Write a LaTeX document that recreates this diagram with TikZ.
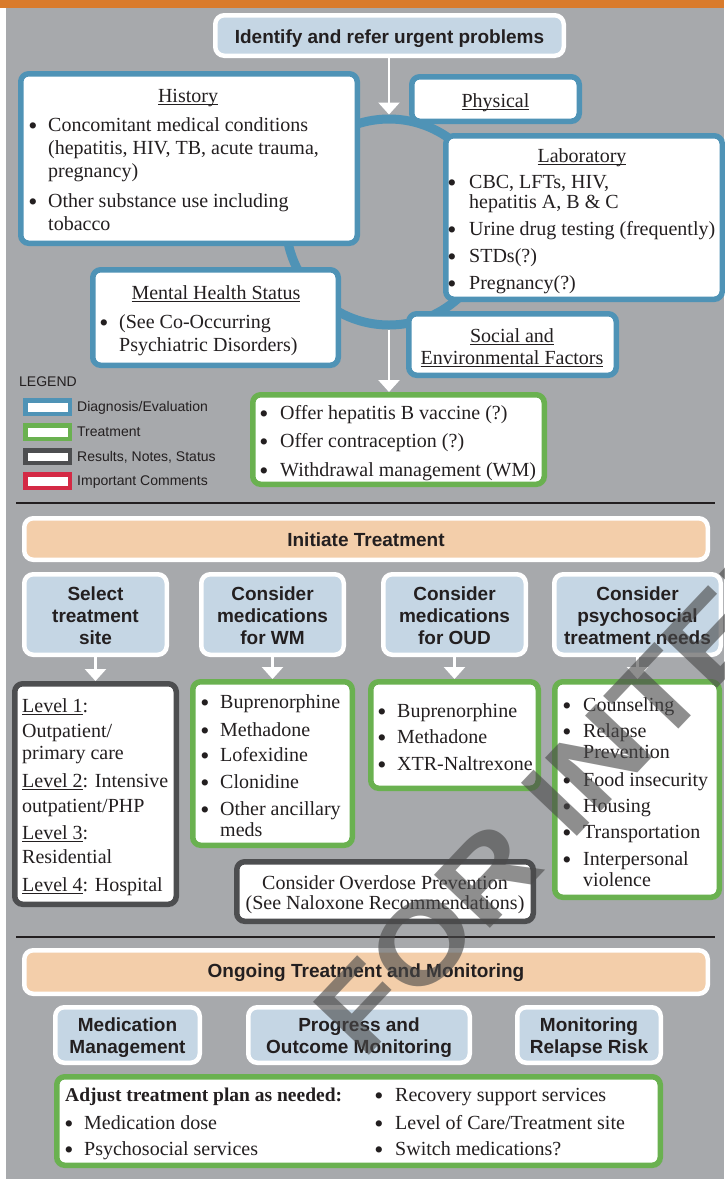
\documentclass[tikz,border=0pt]{standalone}
\usepackage{fontspec}
\setmainfont{Liberation Serif}
\newfontfamily\hsans{Liberation Sans}
\newfontfamily\wmfont[FakeStretch=1.13]{Liberation Sans}
\usetikzlibrary{arrows.meta}
\definecolor{cgray}{HTML}{A7A9AC}
\definecolor{corange}{HTML}{D97B2C}
\definecolor{cblue}{HTML}{4F93B6}
\definecolor{cgreen}{HTML}{6AB150}
\definecolor{cdark}{HTML}{4D4E50}
\definecolor{cred}{HTML}{D42A45}
\definecolor{clight}{HTML}{C5D6E4}
\definecolor{cpeach}{HTML}{F3CEAA}
\definecolor{ctext}{HTML}{231F20}
\definecolor{cwm}{HTML}{4A4A4A}
\newsavebox\ulbox
\newcommand{\myul}[1]{\sbox\ulbox{#1}\rlap{\rule[-3pt]{\wd\ulbox}{0.9pt}}\usebox\ulbox}
\newcommand{\mybox}[7]{\node[#1,minimum width={#5-#3-#7},minimum height={#6-#4-#7}] (#2) at ({(#3+#5)/2},{(#4+#6)/2}) {};}
\tikzset{
 frame/.style={rectangle, fill=white, line width=5.5pt, rounded corners=8pt, inner sep=0pt},
 dxbox/.style={frame, draw=cblue},
 txbox/.style={frame, draw=cgreen},
 rnbox/.style={frame, draw=cdark},
 headbox/.style={rectangle, draw=white, fill=clight, line width=4.5pt, rounded corners=9pt, inner sep=0pt},
 barbox/.style={headbox, fill=cpeach},
 swatch/.style={rectangle, fill=white, line width=4.5pt, inner sep=0pt},
 ser/.style={font=\fontsize{20}{23}\selectfont, text=ctext, inner sep=0pt, anchor=base west},
 sert/.style={font=\fontsize{20}{23}\selectfont, text=ctext, inner sep=0pt, anchor=base},
 serb/.style={font=\bfseries\fontsize{19.5}{23}\selectfont, text=ctext, inner sep=0pt, anchor=base west},
 hd/.style={font=\hsans\bfseries\fontsize{19}{22}\selectfont, text=ctext, inner sep=0pt, anchor=base},
 bul/.style={font=\fontsize{26}{26}\selectfont, text=ctext, inner sep=0pt, anchor=base, yshift=-3pt},
 leg/.style={font=\hsans\fontsize{14}{16}\selectfont, text=ctext, inner sep=0pt, anchor=base west},
 warrow/.style={draw=white, line width=2.5pt, -{Triangle[width=21pt,length=12pt]}},
 sepline/.style={line width=2.5pt, draw=ctext},
}
\begin{document}
\begin{tikzpicture}[x=1pt,y=-1pt]
\useasboundingbox (0,0) rectangle (724,1179);
\fill[cgray] (6,8) rectangle (724,1179);
\fill[corange] (0,0) rectangle (724,8);

% ---------- top section ----------
\node[circle, draw=cblue, line width=9pt, minimum size=206pt, inner sep=0pt] (ring) at (389,222) {};
\mybox{headbox}{ident}{213}{13}{566}{58}{4.5}
\node[hd] (identT) at (389.5,43) {Identify and refer urgent problems};

\mybox{dxbox}{hist}{18}{71}{360}{246}{5.5}
\mybox{dxbox}{phys}{409}{74}{582}{124}{5.5}
\mybox{dxbox}{lab}{443}{133}{725}{302}{5.5}
\mybox{dxbox}{mhs}{90}{267}{341}{368}{5.5}
\mybox{dxbox}{soc}{406}{311}{619}{378}{5.5}
\mybox{txbox}{offer}{250}{392}{547}{487}{5.5}

\draw[warrow] (ring.north |- ident.south) -- (ring.north);
\draw[warrow] (ring.south) -- (ring.south |- offer.north);

% History
\node[sert] (histT) at (188,102) {\myul{History}};
\node[bul] (hb1) at (33,131) {•};
\node[ser] (h1a) at (48,131) {Concomitant medical conditions};
\node[ser] (h1b) at (48,154) {(hepatitis, HIV, TB, acute trauma,};
\node[ser] (h1c) at (48,177) {pregnancy)};
\node[bul] (hb2) at (33,207) {•};
\node[ser] (h2a) at (48,207) {Other substance use including};
\node[ser] (h2b) at (48,230) {tobacco};

% Physical
\node[sert] (physT) at (495.5,107) {\myul{Physical}};

% Laboratory
\node[sert] (labT) at (582,162) {\myul{Laboratory}};
\node[bul] (lb1) at (452,188) {•};
\node[ser] (l1a) at (469,188) {CBC, LFTs, HIV,};
\node[ser] (l1b) at (469,208) {hepatitis A, B \& C};
\node[bul] (lb2) at (452,235) {•};
\node[ser] (l2) at (469,235) {Urine drug testing (frequently)};
\node[bul] (lb3) at (452,262) {•};
\node[ser] (l3) at (469,262) {STDs(?)};
\node[bul] (lb4) at (452,289) {•};
\node[ser] (l4) at (469,289) {Pregnancy(?)};

% Mental health
\node[sert] (mhsT) at (216,299) {\myul{Mental Health Status}};
\node[bul] (mb1) at (104,328) {•};
\node[ser] (m1a) at (119,328) {(See Co-Occurring};
\node[ser] (m1b) at (119,351) {Psychiatric Disorders)};

% Social
\node[sert] (socT1) at (512,342) {\myul{Social and}};
\node[sert] (socT2) at (512,364) {\myul{Environmental Factors}};

% Offer
\node[bul] (ob1) at (264,419) {•};
\node[ser] (o1) at (280,419) {Offer hepatitis B vaccine (?)};
\node[bul] (ob2) at (264,447) {•};
\node[ser] (o2) at (280,447) {Offer contraception (?)};
\node[bul] (ob3) at (264,476) {•};
\node[ser] (o3) at (280,476) {Withdrawal management (WM)};

% Legend
\node[leg] (legT) at (19,386) {LEGEND};
\mybox{swatch, draw=cblue}{sw1}{23}{398}{72}{416}{4.5}
\mybox{swatch, draw=cgreen}{sw2}{23}{423}{72}{441}{4.5}
\mybox{swatch, draw=cdark}{sw3}{23}{448}{72}{465}{4.5}
\mybox{swatch, draw=cred}{sw4}{23}{472}{72}{490}{4.5}
\node[leg] (lg1) at (77,411) {Diagnosis/Evaluation};
\node[leg] (lg2) at (77,436) {Treatment};
\node[leg] (lg3) at (77,461) {Results, Notes, Status};
\node[leg] (lg4) at (77,485) {Important Comments};

% ---------- middle section ----------
\draw[sepline] (16,503) -- (715,503);
\mybox{barbox}{init}{22}{516}{710}{562}{4.5}
\node[hd] (initT) at (366,546) {Initiate Treatment};

\mybox{headbox}{hA}{22}{572}{169}{657}{4.5}
\mybox{headbox}{hB}{199}{572}{346}{657}{4.5}
\mybox{headbox}{hC}{381}{572}{528}{657}{4.5}
\mybox{headbox}{hD}{552}{572}{723}{657}{4.5}
\node[hd] (hA1) at (95.5,600) {Select};
\node[hd] (hA2) at (95.5,622) {treatment};
\node[hd] (hA3) at (95.5,644) {site};
\node[hd] (hB1) at (272.5,600) {Consider};
\node[hd] (hB2) at (272.5,622) {medications};
\node[hd] (hB3) at (272.5,644) {for WM};
\node[hd] (hC1) at (454.5,600) {Consider};
\node[hd] (hC2) at (454.5,622) {medications};
\node[hd] (hC3) at (454.5,644) {for OUD};
\node[hd] (hD1) at (637.5,600) {Consider};
\node[hd] (hD2) at (637.5,622) {psychosocial};
\node[hd] (hD3) at (637.5,644) {treatment needs};

\mybox{rnbox}{lvl}{12}{681}{179}{907}{5.5}
\mybox{txbox}{wmbox}{190}{679}{355}{848}{5.5}
\mybox{txbox}{oud}{368}{679}{541}{791}{5.5}
\mybox{txbox}{psy}{552}{679}{722}{900}{5.5}
\mybox{rnbox}{od}{234}{859}{536}{924}{5.5}

\draw[warrow] (hA.south) -- (hA.south |- lvl.north);
\draw[warrow] (hB.south) -- (hB.south |- wmbox.north);
\draw[warrow] (hC.south) -- (hC.south |- oud.north);
\draw[warrow] (hD.south) -- (hD.south |- psy.north);

% Levels
\node[ser] (v1) at (22,712) {\myul{Level 1}:};
\node[ser] (v2) at (22,737) {Outpatient/};
\node[ser] (v3) at (22,759) {primary care};
\node[ser] (v4) at (22,787) {\myul{Level 2}: Intensive};
\node[ser] (v5) at (22,812) {outpatient/PHP};
\node[ser] (v6) at (22,839) {\myul{Level 3}:};
\node[ser] (v7) at (22,863) {Residential};
\node[ser] (v8) at (22,891) {\myul{Level 4}: Hospital};

% WM meds
\node[bul] (wb1) at (205,708) {•};
\node[ser] (w1) at (220,708) {Buprenorphine};
\node[bul] (wb2) at (205,736) {•};
\node[ser] (w2) at (220,736) {Methadone};
\node[bul] (wb3) at (205,761) {•};
\node[ser] (w3) at (220,761) {Lofexidine};
\node[bul] (wb4) at (205,788) {•};
\node[ser] (w4) at (220,788) {Clonidine};
\node[bul] (wb5) at (205,815) {•};
\node[ser] (w5a) at (220,815) {Other ancillary};
\node[ser] (w5b) at (220,836) {meds};

% OUD meds
\node[bul] (ub1) at (382,717) {•};
\node[ser] (u1) at (397,717) {Buprenorphine};
\node[bul] (ub2) at (382,743) {•};
\node[ser] (u2) at (397,743) {Methadone};
\node[bul] (ub3) at (382,770) {•};
\node[ser] (u3) at (397,770) {XTR-Naltrexone};

% Psychosocial
\node[bul] (pb1) at (567,711) {•};
\node[ser] (p1) at (583,711) {Counseling};
\node[bul] (pb2) at (567,737) {•};
\node[ser] (p2a) at (583,737) {Relapse};
\node[ser] (p2b) at (583,758) {Prevention};
\node[bul] (pb3) at (567,786) {•};
\node[ser] (p3) at (583,786) {Food insecurity};
\node[bul] (pb4) at (567,812) {•};
\node[ser] (p4) at (583,812) {Housing};
\node[bul] (pb5) at (567,838) {•};
\node[ser] (p5) at (583,838) {Transportation};
\node[bul] (pb6) at (567,865) {•};
\node[ser] (p6a) at (583,865) {Interpersonal};
\node[ser] (p6b) at (583,886) {violence};

% Overdose
\node[sert] (od1) at (385,889) {Consider Overdose Prevention};
\node[sert] (od2) at (385,909) {(See Naloxone Recommendations)};

% ---------- bottom section ----------
\draw[sepline] (16,937) -- (715,937);
\mybox{barbox}{ongo}{22}{948}{710}{996}{4.5}
\node[hd] (ongoT) at (366,977) {Ongoing Treatment and Monitoring};

\mybox{headbox}{mA}{53}{1005}{202}{1065}{4.5}
\mybox{headbox}{mB}{246}{1005}{472}{1065}{4.5}
\mybox{headbox}{mC}{515}{1005}{663}{1065}{4.5}
\node[hd] (mA1) at (127.5,1031) {Medication};
\node[hd] (mA2) at (127.5,1053) {Management};
\node[hd] (mB1) at (359,1031) {Progress and};
\node[hd] (mB2) at (359,1053) {Outcome Monitoring};
\node[hd] (mC1) at (589,1031) {Monitoring};
\node[hd] (mC2) at (589,1053) {Relapse Risk};

\mybox{txbox}{adj}{54}{1074}{663}{1168}{5.5}
\node[serb] (adjT) at (65,1101) {Adjust treatment plan as needed:};
\node[bul] (ab1) at (69,1129) {•};
\node[ser] (a1) at (84,1129) {Medication dose};
\node[bul] (ab2) at (69,1155) {•};
\node[ser] (a2) at (84,1155) {Psychosocial services};
\node[bul] (ab3) at (379,1101) {•};
\node[ser] (a3) at (395,1101) {Recovery support services};
\node[bul] (ab4) at (379,1129) {•};
\node[ser] (a4) at (395,1129) {Level of Care/Treatment site};
\node[bul] (ab5) at (379,1155) {•};
\node[ser] (a5) at (395,1155) {Switch medications?};

% watermark
\node[font=\wmfont\bfseries\fontsize{112}{112}\selectfont, text=cwm, text opacity=0.62, rotate=46.5, inner sep=0pt] (stamp) at (570,788) {FOR INTER};
\end{tikzpicture}
\end{document}
